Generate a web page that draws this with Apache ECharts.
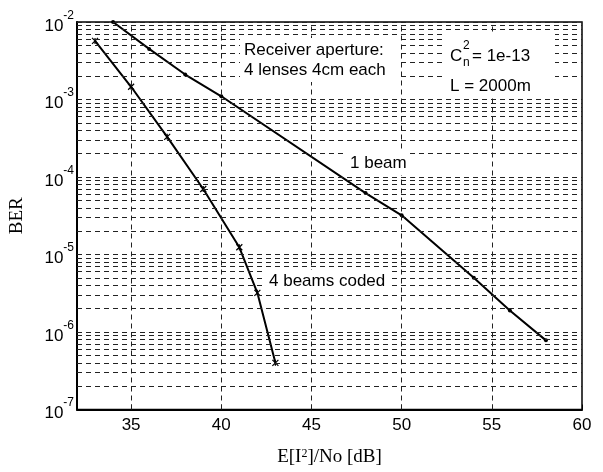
<!DOCTYPE html>
<html>
<head>
<meta charset="utf-8">
<script src="https://cdn.jsdelivr.net/npm/echarts@6/dist/echarts.min.js"></script>
<style>
  html, body { margin: 0; padding: 0; background: #fff; }
  #chart { width: 603px; height: 472px; }
</style>
</head>
<body>
<div id="chart"></div>
<script>
// data
var snr1Beam = [34, 36, 38, 40, 48, 50, 54, 56, 58];
var ber1Beam = [1.0e-2, 4.5e-3, 2.1e-3, 1.1e-3, 6.2e-5, 3.2e-5, 5.0e-6, 1.9e-6, 7.8e-7];
var snrCoded = [33, 35, 37, 39, 41, 42, 43];
var berCoded = [5.7e-3, 1.46e-3, 3.3e-4, 7.0e-5, 1.24e-5, 3.2e-6, 4.0e-7];
var xTicks = [35, 40, 45, 50, 55, 60];
var xGrid = [35, 40, 45, 50, 55];
var yDecades = [-7, -6, -5, -4, -3, -2];
var minorMult = [2, 3, 4, 5, 6, 7, 8, 9];
var xMin = 32, xMax = 60;

var sans = 'Arial, "Liberation Sans", sans-serif';
var serif = '"Times New Roman", "Liberation Serif", serif';

function pairs(xs, ys) {
  return xs.map(function (x, i) { return [x, ys[i]]; });
}

// dashed grid lines like matlab: decades plus 2..9 minor lines
var hVals = [];
yDecades.forEach(function (d) {
  if (d > -7 && d < -1) hVals.push(Math.pow(10, d));
  if (d < -2) {
    minorMult.forEach(function (m) { hVals.push(m * Math.pow(10, d)); });
  }
});
var hLines = hVals.map(function (v) {
  return [{ coord: [xMin, v] }, { coord: [xMax, v] }];
});
var vLines = xGrid.map(function (x) { return { xAxis: x }; });

var gridStyle = { color: '#222', width: 1, type: [5, 4] };

// text boxes with white fill, like the matlab text objects
function note(x, y, txt, size, pad) {
  return {
    type: 'text', left: x, top: y, z: 10,
    style: {
      text: txt, font: size + 'px ' + sans, fill: '#000',
      backgroundColor: pad ? '#fff' : null, padding: pad || 0
    }
  };
}

var chart = echarts.init(document.getElementById('chart'));
chart.setOption({
  animation: false,
  grid: { left: 77, right: 21, top: 22, bottom: 56, show: true, borderColor: '#000', borderWidth: 1.5 },
  xAxis: {
    type: 'value', min: xMin, max: xMax,
    name: '{n|E[I}{s|2}{n|]/No [dB]}',
    nameLocation: 'middle', nameGap: 38,
    nameTextStyle: {
      rich: {
        n: { fontFamily: serif, fontSize: 19, color: '#000' },
        s: { fontFamily: serif, fontSize: 12, color: '#000', verticalAlign: 'top', padding: [0, 0, 8, 0] }
      }
    },
    axisLine: { lineStyle: { color: '#000', width: 2 } },
    axisTick: { inside: true, length: 5, customValues: xTicks, lineStyle: { color: '#000' } },
    axisLabel: { customValues: xTicks, color: '#000', fontFamily: sans, fontSize: 17, margin: 7 },
    splitLine: { show: false }
  },
  yAxis: {
    type: 'log', logBase: 10, min: 1e-7, max: 1e-2, interval: 1,
    name: 'BER', nameLocation: 'middle', nameGap: 50,
    nameTextStyle: { fontFamily: serif, fontSize: 19, color: '#000' },
    axisLine: { lineStyle: { color: '#000', width: 2 } },
    axisTick: { inside: true, length: 5, lineStyle: { color: '#000' } },
    axisLabel: {
      margin: 3,
      formatter: function (v) {
        return '{b|10}{s|' + Math.round(Math.log10(v)) + '}';
      },
      rich: {
        b: { fontFamily: sans, fontSize: 17, color: '#000', padding: [8, 0, 0, 0] },
        s: { fontFamily: sans, fontSize: 12, color: '#000', verticalAlign: 'top' }
      }
    },
    splitLine: { show: false }
  },
  series: [
    {
      name: 'grid', type: 'line', data: [], silent: true,
      markLine: {
        silent: true, symbol: ['none', 'none'], label: { show: false },
        lineStyle: gridStyle,
        data: hLines.concat(vLines)
      },
      z: 1
    },
    {
      name: '1 beam', type: 'line', data: pairs(snr1Beam, ber1Beam),
      symbol: 'circle', symbolSize: 4,
      lineStyle: { color: '#000', width: 2 },
      itemStyle: { color: '#000' },
      z: 3
    },
    {
      name: '4 beams coded', type: 'line', data: pairs(snrCoded, berCoded),
      symbol: 'path://M0,0L1,1M1,0L0,1M0.5,0L0.5,1', symbolSize: 6,
      lineStyle: { color: '#000', width: 2 },
      itemStyle: { color: 'none', borderColor: '#000', borderWidth: 1.2 },
      z: 3
    }
  ],
  graphic: [
    // white backing boxes first
    { type: 'rect', left: 240, top: 38, z: 9, shape: { width: 157, height: 44 }, style: { fill: '#fff' } },
    { type: 'rect', left: 445, top: 34, z: 9, shape: { width: 110, height: 61 }, style: { fill: '#fff' } },
    note(244, 42, 'Receiver aperture:', 17),
    note(244, 62, '4 lenses 4cm each', 17),
    note(450, 48, 'C', 17),
    note(463, 40, '2', 12),
    note(463, 57, 'n', 12),
    note(472, 48, '= 1e-13', 17),
    note(450, 78, 'L = 2000m', 17),
    note(347, 152, '1 beam', 17, [3, 3, 3, 3]),
    note(266, 270, '4 beams coded', 17, [3, 3, 3, 3])
  ]
});
</script>
</body>
</html>
